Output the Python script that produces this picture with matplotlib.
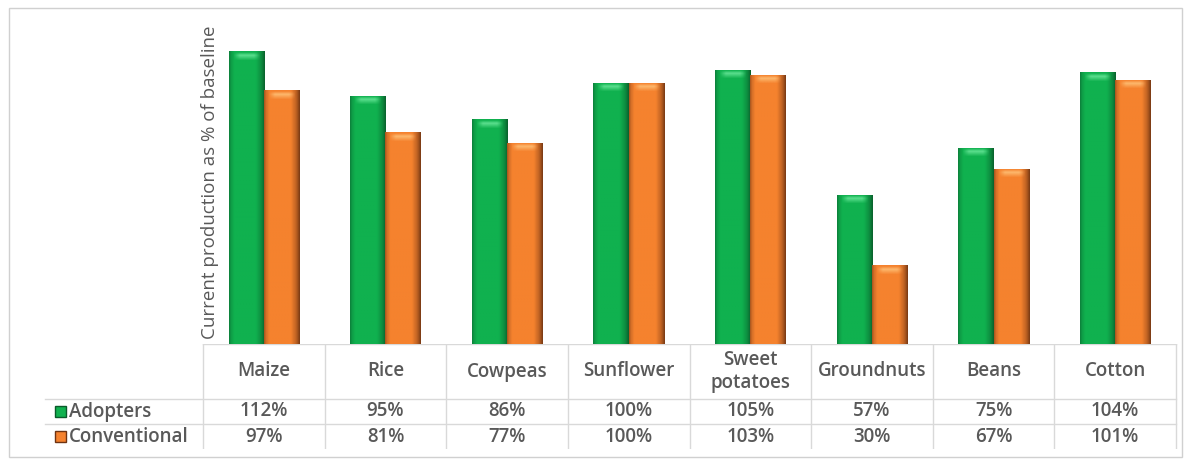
import numpy as np
import matplotlib
matplotlib.use("Agg")
import matplotlib.pyplot as plt
from matplotlib.colors import to_rgb
from matplotlib.patches import Rectangle

plt.rcParams['font.family'] = ['Open Sans', 'DejaVu Sans']

# data
crops = ["Maize", "Rice", "Cowpeas", "Sunflower", "Sweet\npotatoes",
         "Groundnuts", "Beans", "Cotton"]
adopters = [112, 95, 86, 100, 105, 57, 75, 104]
conventional = [97, 81, 77, 100, 103, 30, 67, 101]
series_names = ["Adopters", "Conventional"]

W, H = 1190, 465
fig = plt.figure(figsize=(W / 100, H / 100), dpi=100)

def fx(px):
    return px / W

def fy(py):
    return 1 - py / H

# plot area in pixels
left, right, top, base = 203, 1176, 31, 344
ax = fig.add_axes([fx(left), fy(base), fx(right - left), fy(top) - fy(base)])
ax.axis("off")

text_col = "#595959"
grid_col = "#d9d9d9"
tsize = 13.5

green = dict(dark="#0a5a2a", mid="#10b14f", light="#6ae89a")
orange = dict(dark="#6e3312", mid="#f5822e", light="#ffc37a")


def shaded_bar(x0, w, h, c):
    # horizontal gradient: dark left strip, bright body, dark right edge
    n = 60
    t = np.linspace(0, 1, n)
    dark = np.array(to_rgb(c["dark"]))
    mid = np.array(to_rgb(c["mid"]))
    prof = np.interp(t, [0, 0.05, 0.14, 0.75, 0.9, 1.0], [0.45, 0.75, 1.0, 1.0, 0.6, 0.1])
    img = dark[None, :] + (mid - dark)[None, :] * prof[:, None]
    ax.imshow(img[None, :, :], extent=(x0, x0 + w, 0, h), aspect="auto",
              interpolation="bilinear", zorder=2)
    # light cap at the top
    light = np.array(to_rgb(c["light"]))
    cap_h = 3.0
    m = 20
    v = np.linspace(0, 1, m)
    vt = np.interp(v, [0, 0.4, 1], [0.0, 0.95, 0.1])
    cap = np.zeros((m, n, 4))
    hw = np.interp(t, [0, 0.12, 0.3, 0.7, 0.88, 1.0], [0, 0, 1, 1, 0, 0])
    cap[:, :, :3] = light
    cap[:, :, 3] = (vt[:, None] * hw[None, :]) * 0.9
    ax.imshow(cap, extent=(x0, x0 + w, h - cap_h, h), aspect="auto",
              interpolation="bilinear", zorder=3)


bw = 0.29
x = np.arange(len(crops))
for i in x:
    shaded_bar(i - bw, bw, adopters[i], green)
    shaded_bar(i, bw, conventional[i], orange)

ax.set_xlim(-0.5, len(crops) - 0.5)
ax.set_ylim(0, 120)

# y label
fig.text(fx(210), fy(182), "Current production as % of baseline", rotation=90,
         ha="center", va="center", fontsize=13.5, color=text_col)

# data table below the plot, same column layout
row_bottom = 449
tab = fig.add_axes([0, fy(row_bottom), 1, fy(base) - fy(row_bottom)])
tab.set_xlim(0, W)
tab.set_ylim(row_bottom, base)
tab.axis("off")

hdr_bottom, row1_bottom = 399, 424
col_w = (right - left) / len(crops)
for k in range(len(crops) + 1):
    xx = left + k * col_w
    tab.plot([xx, xx], [base, row_bottom], color=grid_col, lw=1)
tab.plot([left, right], [base, base], color=grid_col, lw=1)
tab.plot([45, right], [hdr_bottom, hdr_bottom], color=grid_col, lw=1)
tab.plot([45, right], [row1_bottom, row1_bottom], color=grid_col, lw=1)

for k, name in enumerate(crops):
    cx = left + (k + 0.5) * col_w
    tab.text(cx, (base + hdr_bottom) / 2, name, ha="center", va="center",
             fontsize=tsize, color=text_col, fontweight="semibold", linespacing=1.15)
    tab.text(cx, (hdr_bottom + row1_bottom) / 2, f"{adopters[k]}%", ha="center",
             va="center", fontsize=tsize, color=text_col, fontweight="semibold")
    tab.text(cx, (row1_bottom + row_bottom) / 2, f"{conventional[k]}%", ha="center",
             va="center", fontsize=tsize, color=text_col, fontweight="semibold")

for j, (name, c) in enumerate(zip(series_names, [green, orange])):
    yc = (hdr_bottom + row1_bottom) / 2 if j == 0 else (row1_bottom + row_bottom) / 2
    tab.add_patch(Rectangle((55, yc - 5.5), 11, 11, facecolor=c["mid"],
                            edgecolor=c["dark"], lw=1))
    tab.text(69, yc, name, ha="left", va="center", fontsize=tsize,
             color=text_col, fontweight="semibold")

# outer chart frame
fig.add_artist(Rectangle((fx(9), fy(457)), fx(1182 - 9), fy(8) - fy(457),
                         transform=fig.transFigure, fill=False,
                         edgecolor="#d0d0d0", lw=1))

fig.savefig("out.png", dpi=100)
